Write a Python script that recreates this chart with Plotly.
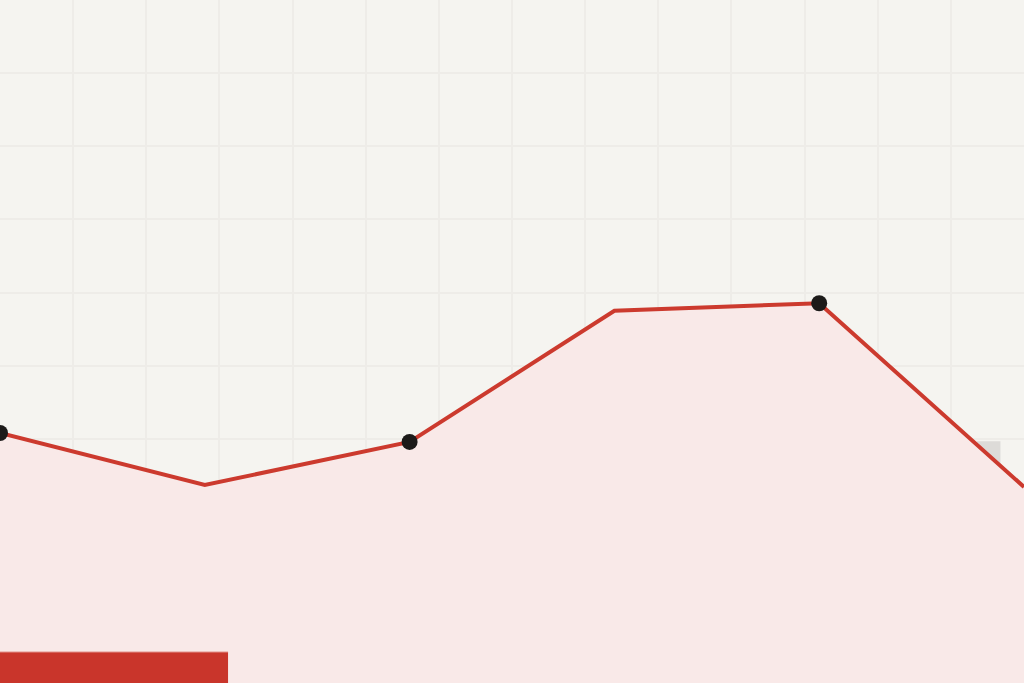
import plotly.graph_objects as go

steps = [0, 1, 2, 3, 4, 5]
values = [36.6, 29.0, 35.3, 54.5, 55.6, 28.7]
marked = [True, False, True, False, True, False]

fig = go.Figure()

fig.add_trace(
    go.Scatter(
        x=steps,
        y=values,
        mode="lines",
        line=dict(color="#cc3a2e", width=4),
        fill="tozeroy",
        fillcolor="#f9e9e8",
        hoverinfo="skip",
        showlegend=False,
    )
)

fig.add_trace(
    go.Scatter(
        x=[s for s, m in zip(steps, marked) if m],
        y=[v for v, m in zip(values, marked) if m],
        mode="markers",
        marker=dict(color="#1c1a19", size=16, opacity=1, line=dict(width=0)),
        hoverinfo="skip",
        showlegend=False,
        cliponaxis=False,
    )
)

# faint gray block behind the area, near the right edge
fig.add_shape(
    type="rect", xref="paper", yref="paper",
    x0=0.954, x1=0.977, y0=0.25, y1=0.354,
    fillcolor="#dddbd8", line=dict(width=0), layer="below",
)

# red bar, bottom left
fig.add_shape(
    type="rect", xref="paper", yref="paper",
    x0=0, x1=0.2227, y0=0, y1=0.0454,
    fillcolor="#c9352b", line=dict(width=0), layer="above",
)
fig.add_shape(
    type="line", xref="paper", yref="paper",
    x0=0, x1=0.2227, y0=0.0454, y1=0.0454,
    line=dict(color="#e3958c", width=1), layer="above",
)

fig.update_layout(
    width=1024,
    height=683,
    margin=dict(l=0, r=0, t=0, b=0),
    paper_bgcolor="#f5f4f0",
    plot_bgcolor="#f5f4f0",
    xaxis=dict(
        range=[0, 5], showticklabels=False, zeroline=False,
        showgrid=True, gridcolor="#eeece8", gridwidth=1.5,
        tick0=0, dtick=5 / 14, fixedrange=True,
    ),
    yaxis=dict(
        range=[0, 100], showticklabels=False, zeroline=False,
        showgrid=True, gridcolor="#eeece8", gridwidth=1.5,
        tick0=100, dtick=10.71, fixedrange=True,
    ),
)

fig.write_html(
    "out.html",
    config={"displayModeBar": False},
    post_script="document.body.style.margin='0';document.body.style.background='#f5f4f0';",
)
